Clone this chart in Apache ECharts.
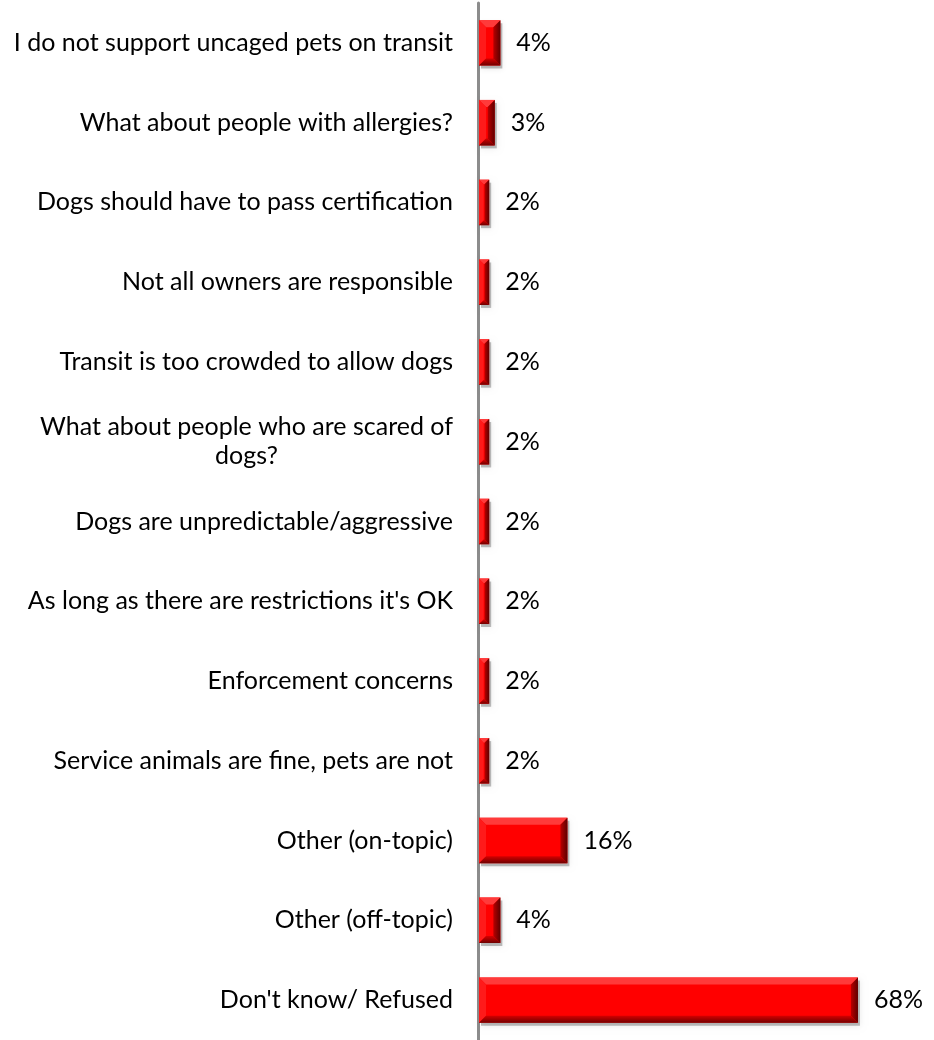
<!DOCTYPE html>
<html>
<head>
<meta charset="utf-8">
<script src="https://cdn.jsdelivr.net/npm/echarts@6/dist/echarts.min.js"></script>
<style>
  html, body { margin: 0; padding: 0; background: #fff; }
  #chart { width: 934px; height: 1040px; }
</style>
</head>
<body>
<div id="chart"></div>
<script>
// Survey responses: concerns about allowing dogs on transit
const categories = [
  "I do not support uncaged pets on transit",
  "What about people with allergies?",
  "Dogs should have to pass certification",
  "Not all owners are responsible",
  "Transit is too crowded to allow dogs",
  "What about people who are scared of dogs?",
  "Dogs are unpredictable/aggressive",
  "As long as there are restrictions it's OK",
  "Enforcement concerns",
  "Service animals are fine, pets are not",
  "Other (on-topic)",
  "Other (off-topic)",
  "Don't know/ Refused"
];
const percents = [4, 3, 2, 2, 2, 2, 2, 2, 2, 2, 16, 4, 68];

const FONT = 'Lato';
const chart = echarts.init(document.getElementById('chart'), null, { renderer: 'canvas' });

// Beveled red bar with a soft drop shadow, plus its value label
function renderBevelBar(params, api) {
  const val = api.value(0);
  const idx = api.value(1);
  const start = api.coord([0, idx]);
  const end = api.coord([val, idx]);
  const h = api.size([0, 1])[1] * 0.57;
  const x0 = start[0] + 1, x1 = end[0];
  const y0 = start[1] - h / 2, y1 = start[1] + h / 2;
  const w = x1 - x0;
  const b = Math.min(7, w / 2.2);
  return {
    type: 'group',
    children: [
      { type: 'rect', shape: { x: x0 + 2, y: y0 + 3, width: w, height: h },
        style: { fill: 'rgba(0,0,0,0.25)', shadowBlur: 6, shadowColor: 'rgba(0,0,0,0.35)' } },
      { type: 'rect', shape: { x: x0, y: y0, width: w, height: h }, style: { fill: '#ff0000' } },
      // top edge
      { type: 'polygon', shape: { points: [[x0, y0], [x1, y0], [x1 - b, y0 + b], [x0 + b, y0 + b]] },
        style: { fill: '#ff3a3a' } },
      // left edge
      { type: 'polygon', shape: { points: [[x0, y0], [x0 + b, y0 + b], [x0 + b, y1 - b], [x0, y1]] },
        style: { fill: '#ff1a1a' } },
      // bottom edge
      { type: 'polygon', shape: { points: [[x0, y1], [x0 + b, y1 - b], [x1 - b, y1 - b], [x1, y1]] },
        style: { fill: new echarts.graphic.LinearGradient(0, 0, 0, 1, [
          { offset: 0, color: '#d40000' }, { offset: 1, color: '#6e0000' }]) } },
      // right edge
      { type: 'polygon', shape: { points: [[x1, y0], [x1, y1], [x1 - b, y1 - b], [x1 - b, y0 + b]] },
        style: { fill: new echarts.graphic.LinearGradient(0, 0, 1, 0, [
          { offset: 0, color: '#b80000' }, { offset: 1, color: '#5e0000' }]) } },
      { type: 'text', x: x1 + 16, y: start[1],
        style: { text: val + '%', fill: '#000', font: '25px ' + FONT, align: 'left', verticalAlign: 'middle' } }
    ]
  };
}

chart.setOption({
  animation: false,
  backgroundColor: '#fff',
  grid: { left: 478, right: 9, top: 3, height: 1044, containLabel: false },
  xAxis: {
    type: 'value', min: 0, max: 80,
    show: false
  },
  yAxis: {
    type: 'category',
    data: categories,
    inverse: true,
    axisLine: { show: true, lineStyle: { color: '#8c8c8c', width: 3 } },
    axisTick: { show: false },
    axisLabel: {
      margin: 25,
      color: '#000',
      fontFamily: FONT,
      fontSize: 25,
      lineHeight: 29,
      formatter: function (v) {
        if (v === "What about people who are scared of dogs?") {
          return '{c|What about people who are scared of}\n{c|dogs?}';
        }
        return v;
      },
      rich: { c: { align: 'center', fontFamily: FONT, fontSize: 25, lineHeight: 29, color: '#000' } }
    }
  },
  series: [{
    type: 'custom',
    renderItem: renderBevelBar,
    encode: { x: 0, y: 1 },
    data: percents.map((v, i) => [v, i])
  }]
});
</script>
</body>
</html>
